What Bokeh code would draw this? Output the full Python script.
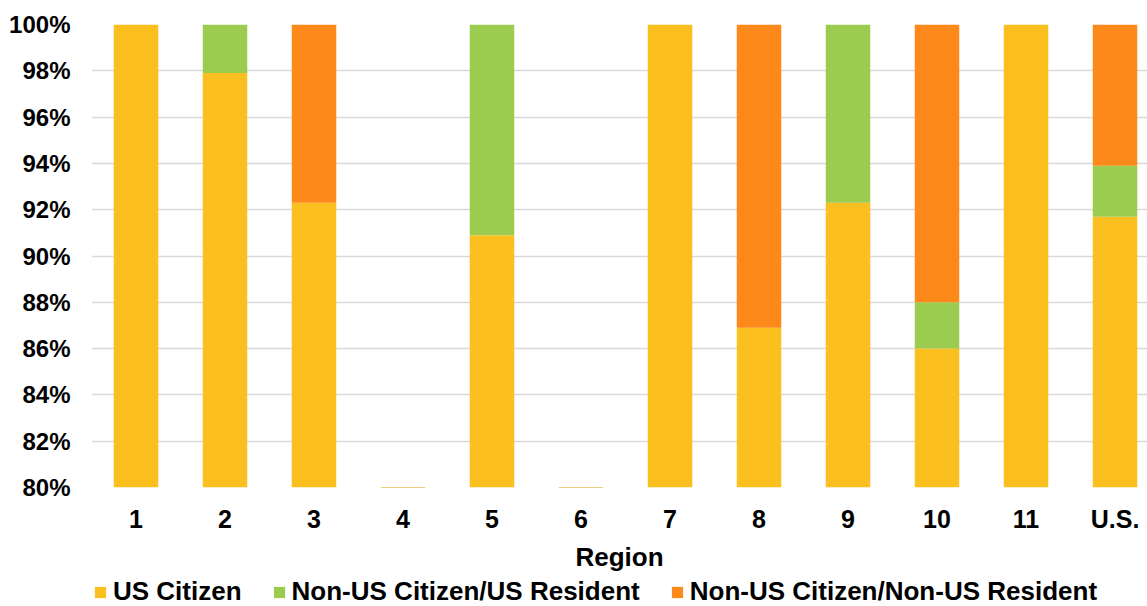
from bokeh.plotting import figure
from bokeh.layouts import column
from bokeh.models import (ColumnDataSource, Range1d, FixedTicker, PrintfTickFormatter,
                          Legend, LegendItem)
from bokeh.embed import file_html
from bokeh.resources import INLINE

regions = ["1", "2", "3", "4", "5", "6", "7", "8", "9", "10", "11", "U.S."]
us_citizen = [100.0, 97.9, 92.3, 0.0, 90.9, 0.0, 100.0, 86.9, 92.3, 86.0, 100.0, 91.7]
non_us_citizen_us_resident = [0.0, 2.1, 0.0, 0.0, 9.1, 0.0, 0.0, 0.0, 7.7, 2.0, 0.0, 2.2]
non_us_citizen_non_us_resident = [0.0, 0.0, 7.7, 0.0, 0.0, 0.0, 0.0, 13.1, 0.0, 12.0, 0.0, 6.1]
series_names = ["US Citizen", "Non-US Citizen/US Resident", "Non-US Citizen/Non-US Resident"]
colors = ["#FBBF1F", "#9BCB4F", "#FD891A"]
y_ticks = list(range(80, 101, 2))

xs = list(range(1, len(regions) + 1))
source = ColumnDataSource(dict(x=xs, us=us_citizen, res=non_us_citizen_us_resident,
                               nonres=non_us_citizen_non_us_resident))
stack_cols = ["us", "res", "nonres"]

FONT = "Liberation Sans"

p = figure(width=1147, height=574, x_range=Range1d(0.5, 12.365), y_range=Range1d(80, 100),
           output_backend="svg", toolbar_location=None,
           min_border_left=91, min_border_right=0, min_border_top=24, min_border_bottom=86)
p.outline_line_color = None
p.xgrid.grid_line_color = None
p.ygrid.grid_line_color = "#D9D9D9"
p.ygrid.grid_line_width = 1.5
p.ygrid.ticker = FixedTicker(ticks=y_ticks)

p.vbar_stack(stack_cols, x="x", width=0.5, color=colors, line_color=None, source=source)

p.yaxis.ticker = FixedTicker(ticks=y_ticks)
p.yaxis.formatter = PrintfTickFormatter(format="%d%%")
p.xaxis.ticker = FixedTicker(ticks=xs)
p.xaxis.major_label_overrides = {i + 1: r for i, r in enumerate(regions)}
p.xaxis.axis_label = "Region"

for ax in (p.xaxis, p.yaxis):
    ax.axis_line_color = None
    ax.major_tick_line_color = None
    ax.minor_tick_line_color = None
    ax.major_tick_out = 0
    ax.major_tick_in = 0
    ax.major_label_text_font = FONT
    ax.major_label_text_font_style = "bold"
    ax.major_label_text_color = "#000000"
    ax.axis_label_text_font = FONT
    ax.axis_label_text_font_style = "bold"
    ax.axis_label_text_font_size = "26px"
    ax.axis_label_text_color = "#000000"
p.yaxis.major_label_text_font_size = "24px"
p.xaxis.major_label_text_font_size = "25px"
p.yaxis.major_label_standoff = 21
p.xaxis.major_label_standoff = 17
p.xaxis.axis_label_standoff = 6

# legend strip below the chart (its own bars sit outside its visible range; only the key shows)
lg = figure(width=1147, height=32, x_range=Range1d(0.5, 12.365), y_range=Range1d(1000, 1001),
            output_backend="svg", toolbar_location=None,
            x_axis_location=None, y_axis_location=None,
            min_border_left=0, min_border_right=0, min_border_top=0, min_border_bottom=0)
lg.outline_line_color = None
lg.xgrid.grid_line_color = None
lg.ygrid.grid_line_color = None
key_renderers = lg.vbar_stack(stack_cols, x="x", width=0.5, color=colors,
                              line_color=None, source=source)

legend = Legend(items=[LegendItem(label=n, renderers=[r]) for n, r in zip(series_names, key_renderers)],
                orientation="horizontal", location=(2, -1),
                label_text_font=FONT, label_text_font_style="bold", label_text_font_size="26px",
                label_text_color="#000000",
                glyph_width=14, glyph_height=14, label_standoff=6, spacing=30,
                border_line_color=None, background_fill_alpha=0, padding=0, margin=0)
lg.add_layout(legend, "center")

layout = column(p, lg, spacing=0)
open("out.html", "w").write(file_html(layout, INLINE))
